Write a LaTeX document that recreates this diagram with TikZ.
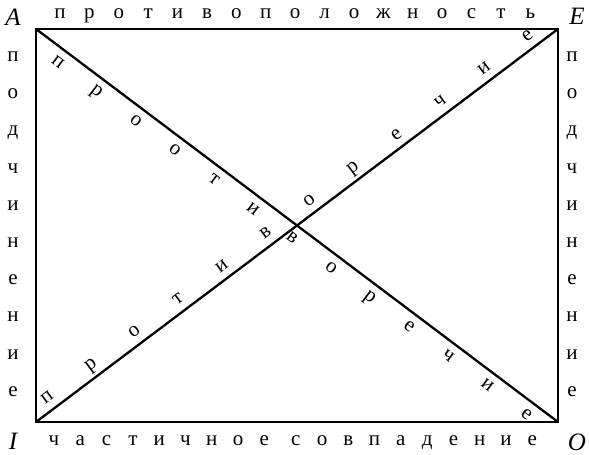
\documentclass[tikz,border=0pt]{standalone}
\usepackage{fontspec}
\setmainfont{Liberation Serif}
\begin{document}
\begin{tikzpicture}[x=1pt,y=1pt,
  frame/.style={line width=2.3pt, line join=miter},
  lett/.style={inner sep=0pt, anchor=base, font=\fontsize{21}{22}\selectfont},
  lab/.style={inner sep=0pt, anchor=base, font=\fontsize{25}{27}\selectfont\itshape}]
\useasboundingbox (0,0) rectangle (589,455);
\coordinate (A) at (36,426);
\coordinate (E) at (558,426);
\coordinate (I) at (36,33);
\coordinate (O) at (558,33);
\draw[frame] (A) -- (E) -- (O) -- (I) -- cycle;
\draw[frame] (A) -- (O);
\draw[frame] (I) -- (E);
% corner labels
\node[lab] (lA) at (13,429) {A};
\node[lab] (lE) at (577,430) {E};
\node[lab] (lI) at (13,5) {I};
\node[lab] (lO) at (577,4) {O};
% top
\foreach \c [count=\i from 0] in {п,р,о,т,и,в,о,п,о,л,о,ж,н,о,с,т,ь}
  \node[lett] (t\i) at ({60+\i*29.4},436.7) {\c};
% bottom
\foreach \c [count=\i from 0] in {ч,а,с,т,и,ч,н,о,е}
  \node[lett] (b\i) at ({54+\i*26.3},9) {\c};
\foreach \c [count=\i from 0] in {с,о,в,п,а,д,е,н,и,е}
  \node[lett] (c\i) at ({295.7+\i*26.3},9) {\c};
% sides
\foreach \c [count=\i from 0] in {п,о,д,ч,и,н,е,н,и,е}{
  \node[lett] (l\i) at (13,{393.5-\i*37.2}) {\c};
  \node[lett] (r\i) at (572,{393.5-\i*37.2}) {\c};
}
% diagonal A-O
\foreach \c [count=\i from 0] in {п,р,о,о,т,и,в,о,р,е,ч,и,е}{
  \pgfmathsetmacro\s{37.2+\i*48.87}
  \node[lett, rotate=-36.98] (d\i) at ({36+\s*0.7989-10.7},{426-\s*0.6015-14.2}) {\c};
}
% diagonal I-E
\foreach \c [count=\i from 0] in {п,р,о,т,и,в,о,р,е,ч,и,е}{
  \pgfmathsetmacro\s{23.35+\i*54.7}
  \node[lett, rotate=36.98] (g\i) at ({36+\s*0.7989-4.9},{33+\s*0.6015+6.5}) {\c};
}
\end{tikzpicture}
\end{document}
